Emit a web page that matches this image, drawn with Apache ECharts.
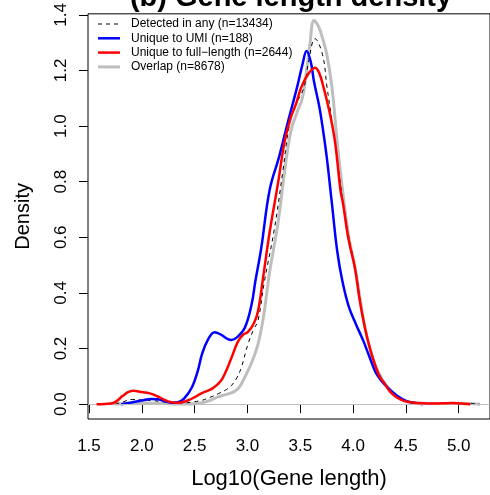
<!DOCTYPE html>
<html>
<head>
<meta charset="utf-8">
<script src="https://cdn.jsdelivr.net/npm/echarts@6/dist/echarts.min.js"></script>
<style>
html,body{margin:0;padding:0;background:#fff;}
#c{width:490px;height:495px;}
</style>
</head>
<body>
<div id="c"></div>
<script>
// ---- data ----
const titleText = "(b) Gene length density";
const xTitle = "Log10(Gene length)";
const yTitle = "Density";
const xTicks = [1.5, 2.0, 2.5, 3.0, 3.5, 4.0, 4.5, 5.0];
const yTicks = [0.0, 0.2, 0.4, 0.6, 0.8, 1.0, 1.2, 1.4];
const seriesNames = ["Detected in any (n=13434)", "Unique to UMI (n=188)", "Unique to full\u2212length (n=2644)", "Overlap (n=8678)"];

const anyX = [1.75,1.82,1.91,2.0,2.1,2.2,2.3,2.4,2.5,2.57,2.65,2.725,2.79,2.85,2.90,2.943,3.005,3.06,3.10,3.16,3.255,3.333,3.395,3.45,3.535,3.58,3.64,3.71,3.753,3.80,3.85,3.90,3.96,4.02,4.11,4.2,4.3,4.41,4.55,4.7,4.9,5.1,5.2];
const anyY = [0,0.008,0.017,0.015,0.013,0.009,0.005,0.005,0.009,0.014,0.025,0.038,0.05,0.068,0.095,0.133,0.216,0.27,0.30,0.44,0.63,0.832,1.0,1.07,1.14,1.235,1.314,1.258,1.14,1.02,0.88,0.74,0.60,0.49,0.28,0.15,0.075,0.027,0.007,0.003,0.003,0.002,0];

const umiX = [1.806,1.90,2.00,2.09,2.15,2.22,2.29,2.35,2.40,2.475,2.53,2.57,2.63,2.69,2.75,2.81,2.85,2.90,2.975,3.04,3.074,3.13,3.21,3.30,3.38,3.47,3.52,3.56,3.60,3.63,3.68,3.71,3.75,3.80,3.85,3.90,3.96,4.03,4.10,4.16,4.22,4.30,4.41,4.50,4.56,4.66];
const umiY = [0,0.006,0.013,0.019,0.018,0.010,0.005,0.008,0.02,0.061,0.12,0.18,0.235,0.259,0.25,0.235,0.231,0.24,0.275,0.36,0.44,0.56,0.77,0.89,1.01,1.14,1.22,1.27,1.23,1.16,1.07,1.00,0.89,0.72,0.55,0.44,0.35,0.285,0.225,0.165,0.11,0.07,0.032,0.012,0.006,0];

const flX = [1.572,1.65,1.73,1.82,1.87,1.92,1.98,2.05,2.10,2.15,2.20,2.25,2.32,2.38,2.44,2.50,2.56,2.62,2.67,2.72,2.76,2.81,2.85,2.91,2.96,3.005,3.06,3.10,3.15,3.21,3.29,3.35,3.41,3.46,3.51,3.58,3.64,3.68,3.72,3.78,3.83,3.88,3.903,3.956,4.018,4.06,4.112,4.16,4.205,4.25,4.30,4.35,4.408,4.48,4.56,4.65,4.75,4.85,4.94,5.02,5.11];
const flY = [0,0.001,0.004,0.03,0.043,0.048,0.045,0.041,0.036,0.028,0.018,0.01,0.005,0.007,0.014,0.025,0.038,0.048,0.057,0.072,0.09,0.13,0.168,0.225,0.25,0.26,0.29,0.334,0.46,0.618,0.796,0.94,1.03,1.08,1.14,1.19,1.21,1.19,1.14,1.045,0.94,0.77,0.725,0.595,0.488,0.38,0.275,0.2,0.145,0.1,0.073,0.045,0.026,0.012,0.006,0.003,0.002,0.003,0.004,0.002,0];

const ovX = [1.74,1.85,1.95,2.05,2.15,2.30,2.45,2.54,2.62,2.72,2.80,2.88,2.93,2.975,3.04,3.10,3.15,3.19,3.21,3.29,3.35,3.41,3.47,3.52,3.56,3.59,3.63,3.67,3.71,3.75,3.80,3.85,3.90,3.96,4.02,4.11,4.2,4.3,4.41,4.56,4.8,5.0,5.2];
const ovY = [0,0.002,0.004,0.004,0.003,0.001,0.001,0.003,0.01,0.026,0.035,0.046,0.065,0.097,0.15,0.216,0.31,0.42,0.476,0.654,0.832,0.98,1.05,1.10,1.20,1.29,1.38,1.36,1.317,1.26,1.14,0.94,0.77,0.60,0.49,0.28,0.15,0.075,0.027,0.006,0.002,0.003,0];

const zip = (xs, ys) => xs.map((x, i) => [x, ys[i]]);

const FONT = "'Liberation Sans', Arial, Helvetica, sans-serif";
const chart = echarts.init(document.getElementById('c'), null, {renderer: 'canvas'});

const styles = [
  {color: '#000000', width: 1, type: [4, 4]},
  {color: '#0000FF', width: 2.5, type: 'solid'},
  {color: '#FF0000', width: 2.5, type: 'solid'},
  {color: '#BEBEBE', width: 3, type: 'solid'}
];

// manual R-style legend (no box)
const legendGraphics = [];
seriesNames.forEach((name, i) => {
  const y = 24 + i * 14.3;
  legendGraphics.push({
    type: 'line', silent: true, z: 10,
    shape: {x1: 98, y1: y, x2: 120, y2: y},
    style: {stroke: styles[i].color, lineWidth: styles[i].width, lineDash: Array.isArray(styles[i].type) ? styles[i].type : null}
  });
  legendGraphics.push({
    type: 'text', silent: true, z: 10, x: 131, y: y,
    style: {text: name, fill: '#000', font: '12px ' + FONT, verticalAlign: 'middle', align: 'left'}
  });
});

const baseLine = {type: 'line', showSymbol: false, symbol: 'none', smooth: 0.4, silent: true, animation: false};

chart.setOption({
  animation: false,
  backgroundColor: '#ffffff',
  title: {
    text: titleText, left: 291, top: -17, textAlign: 'center', padding: 0,
    textStyle: {fontFamily: FONT, fontSize: 29, fontWeight: 'bold', color: '#000'}
  },
  grid: {left: 88, top: 9, width: 407, height: 410, show: true, borderColor: '#000', borderWidth: 1, backgroundColor: 'transparent', containLabel: false},
  graphic: legendGraphics,
  xAxis: {
    type: 'value', min: 1.4907, max: 5.296,
    name: xTitle, nameLocation: 'middle', nameGap: 49,
    nameTextStyle: {fontFamily: FONT, fontSize: 22, color: '#000'},
    axisLine: {show: false},
    axisTick: {show: true, inside: false, length: 9, customValues: xTicks, lineStyle: {color: '#000', width: 1}},
    axisLabel: {show: true, margin: 19, customValues: xTicks, fontFamily: FONT, fontSize: 17, color: '#000', formatter: v => v.toFixed(1)},
    splitLine: {show: false}
  },
  yAxis: {
    type: 'value', min: -0.0533, max: 1.4036,
    name: yTitle, nameLocation: 'middle', nameGap: 55, nameRotate: 90,
    nameTextStyle: {fontFamily: FONT, fontSize: 20, color: '#000'},
    axisLine: {show: false},
    axisTick: {show: true, inside: false, length: 9, customValues: yTicks, lineStyle: {color: '#000', width: 1}},
    axisLabel: {show: true, rotate: 90, margin: 18, customValues: yTicks, fontFamily: FONT, fontSize: 17, color: '#000', formatter: v => v.toFixed(1)},
    splitLine: {show: false}
  },
  series: [
    Object.assign({}, baseLine, {
      name: seriesNames[3], data: zip(ovX, ovY), z: 2,
      lineStyle: styles[3],
      markLine: {silent: true, symbol: 'none', label: {show: false}, animation: false,
        lineStyle: {color: '#BEBEBE', width: 1, type: 'solid'}, data: [{yAxis: 0}]}
    }),
    Object.assign({}, baseLine, {
      name: seriesNames[0], data: zip(anyX, anyY), z: 3,
      lineStyle: styles[0]
    }),
    Object.assign({}, baseLine, {
      name: seriesNames[1], data: zip(umiX, umiY), z: 4,
      lineStyle: styles[1]
    }),
    Object.assign({}, baseLine, {
      name: seriesNames[2], data: zip(flX, flY), z: 5,
      lineStyle: styles[2]
    })
  ]
});
</script>
</body>
</html>
